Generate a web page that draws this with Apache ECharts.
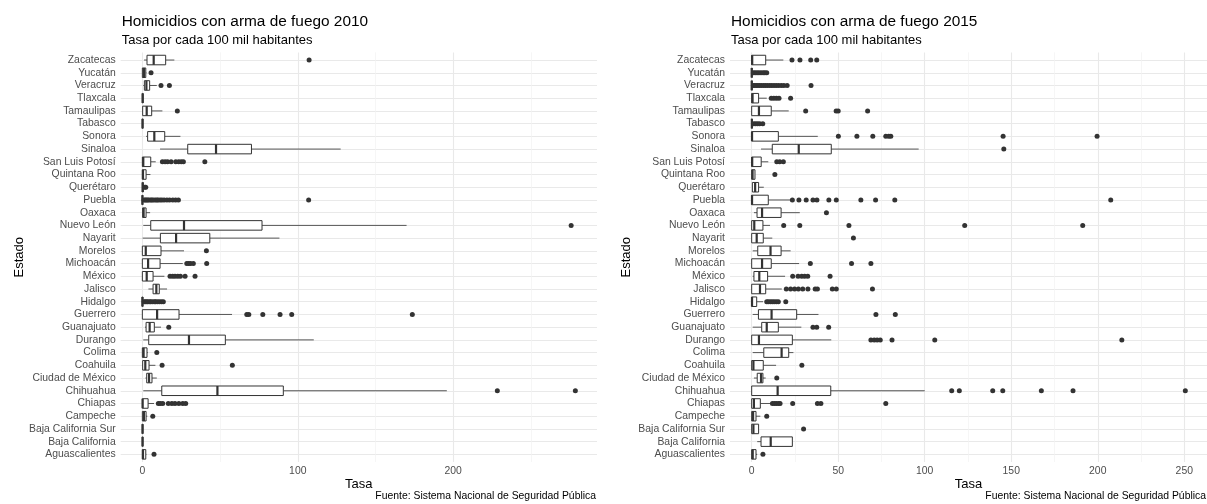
<!DOCTYPE html>
<html>
<head>
<meta charset="utf-8">
<script src="https://cdn.jsdelivr.net/npm/echarts@6.0.0/dist/echarts.min.js"></script>
<style>
  html, body { margin: 0; padding: 0; background: #ffffff; }
  #chart { width: 1207px; height: 504px; }
</style>
</head>
<body>
<div id="chart"></div>
<script>
// States, bottom (index 0) to top
const states = ["Aguascalientes","Baja California","Baja California Sur","Campeche","Chiapas","Chihuahua",
  "Ciudad de México","Coahuila","Colima","Durango","Guanajuato","Guerrero","Hidalgo","Jalisco","México",
  "Michoacán","Morelos","Nayarit","Nuevo León","Oaxaca","Puebla","Querétaro","Quintana Roo",
  "San Luis Potosí","Sinaloa","Sonora","Tabasco","Tamaulipas","Tlaxcala","Veracruz","Yucatán","Zacatecas"];

// [min, Q1, median, Q3, max] per state, 2010
const box2010 = [
  [0,0,0.4,2.2,2.6],[0,0,0.1,0.4,0.5],[0,0,0.1,0.4,0.5],[0,0,1,2.4,3.2],[0,0,0.2,3.7,7.5],
  [0.6,12.5,48.3,90.7,195.9],[2,2.8,4.3,6.2,9.3],[0,0.2,1.9,4.3,8.4],[0,0,0.8,3,3.5],
  [0.6,4.1,30,53.4,110.3],[1.7,2.4,4.7,7.7,12],[0,0,9.5,23.6,57.7],[0,0,0,0.4,0.8],
  [3.9,6.9,9,10.9,15.9],[0,0,2.8,6.9,14.2],[0,0,3.7,11.4,26],[0,0,2.2,12,26.8],
  [0.2,11.6,21.7,43.4,88.2],[0.6,5.4,26.8,77,170],[0.2,0.2,0.8,2.4,5],[0,0,0,0.3,0.6],
  [0,0,0.2,0.6,1],[0,0,0.4,2.4,5.2],[0,0,0.6,5.4,8.6],[11.4,29.2,47.4,70.2,127.6],
  [2.4,3.4,7.7,14.4,24.5],[0,0,0.1,0.4,0.5],[0,0.2,2.8,6,12.9],[0,0,0.2,0.5,0.7],
  [0.6,1.3,2.6,4.7,9.3],[0,0,1,2.2,2.6],[1.1,3,7.3,15,20.6]
];
// outliers per state, 2010
const out2010 = [
  [7.5],[],[],[6.7],[10.3,11.5,13.1,16.7,19,21,23.5,26,27.9],
  [228.4,278.6],[],[12.7,57.9],[9.3],
  [],[17],[67.2,68.5,77.5,88.6,96.1,173.7],[1.2,2.0,2.9,3.6,4.8,5.5,6.7,7.9,8.6,9.8,11.0,12.3,13.5],
  [],[17.8,19.5,21,22.8,24.5,27.5,33.9],[28.6,29.8,31,32.8,41.4],[41.2],
  [],[275.9],[],[1.1,1.9,2.6,3.4,4.2,5.3,6.1,7.0,8.2,9.3,10.1,11.4,12.6,14.0,15.8,17.5,19.6,21.4,23.2,107],
  [1.6,2.2],[],[12.9,14.6,16.2,18.5,21.5,23.4,25,26.4,40.2],[],
  [],[],[22.5],[],
  [12,17.4],[5.6],[107.3]
];

// [min, Q1, median, Q3, max] per state, 2015
const box2015 = [
  [0,0,0.6,2.5,3.2],[3.2,5.4,11,23.5,23.5],[0,0,1,4,4],[0,0,0.8,2.5,5],[0,0,1.3,5,10.9],
  [0,0,15,45.7,100],[1.3,3.2,5.4,6.5,8.1],[0,0,1,6.7,14.1],[0.6,7,17.3,21.4,24.1],
  [0,0,4.2,23.5,46],[0.6,5.8,8.7,15.4,28.7],[0.6,3.9,11.5,26,38.6],[0,0,0.2,2.9,6.6],
  [0,0,4.8,8.1,17.4],[0.6,1.3,4.4,9.2,19.3],[0,0,6,11.3,27.4],[0.6,3.5,10.9,17,22.5],
  [0,0,2.9,6.7,11.9],[0,0,1.5,6.5,10.6],[1.3,3.1,6,17,27.8],[0,0,0.2,9.6,22.7],
  [0.4,0.4,2,4,7],[0,0,0.5,1.9,1.9],[0,0,0.3,5.5,9.6],[5.4,11.9,27.2,46,96.5],
  [0,0,0.2,15.4,38.2],[0,0,0.1,0.3,0.5],[0,0,4.2,11.3,21.4],[0,0,0.5,4,8.7],
  [0,0,0,0.3,0.5],[0,0,0,0.3,0.5],[0,0,0.3,8.1,18.3]
];
// outliers per state, 2015
const out2015 = [
  [6.5],[],[30],[8.7],[12,13.2,14.3,15.5,16.4,23.7,38,40,77.5],
  [115.6,120,139.3,145.1,167.4,185.7,250.6],[14.5],[29],[],
  [68.9,70.8,72.5,74.3,81.1,105.8,213.9],[35.4,37.6,44.5],[71.8,83],[8.7,9.6,10.8,11.9,13,14.2,15.4,19.7],
  [20,22.5,24.8,27,29.5,32.5,36.7,38,46.6,48.9,69.8],[23.7,26.8,28.9,30.6,32.4,45.3],[33.9,57.7,68.9],[],
  [58.8],[18.5,27.8,56.2,123.1,191.3],[43.2],[23.5,27.3,31.5,35.4,37.7,44.6,48.9,63.1,71.6,82.7,207.5],
  [],[13.4],[14.5,16.2,18.3],[145.7],
  [50.1,60.8,70,77.5,79.2,80.4,145.3,199.6],[1.2,2.3,3.4,4.6,6.4],[31.2,48.8,50,67],[11.3,12.8,14.3,15.8,22.5],
  [1,1.8,2.7,3.6,4.5,5.6,6.8,7.9,9.1,10.4,11.6,12.9,14.2,15.6,17.1,18.6,20.5,34.3],[1,2,3.1,4.2,5.4,6.6,7.6,8.7],[23.3,27.9,34.1,37.6]
];

const ticks2010 = [0, 100, 200];
const minorTicks2010 = [50, 150, 250];
const ticks2015 = [0, 50, 100, 150, 200, 250];
const minorTicks2015 = [25, 75, 125, 175, 225];

const titles = ["Homicidios con arma de fuego 2010", "Homicidios con arma de fuego 2015"];
const subtitle = "Tasa por cada 100 mil habitantes";
const caption = "Fuente: Sistema Nacional de Seguridad Pública";
const xName = "Tasa";
const yName = "Estado";

const FONT = "'Liberation Sans', Arial, Helvetica, sans-serif";
const LABEL_COLOR = "#4d4d4d";

function extentOf(boxes, outs) {
  let lo = Infinity, hi = -Infinity;
  boxes.forEach(b => b.forEach(v => { lo = Math.min(lo, v); hi = Math.max(hi, v); }));
  outs.forEach(o => o.forEach(v => { lo = Math.min(lo, v); hi = Math.max(hi, v); }));
  const pad = (hi - lo) * 0.05;
  return [lo - pad, hi + pad];
}

const ext2010 = extentOf(box2010, out2010);
const ext2015 = extentOf(box2015, out2015);
const catIdx = states.map((s, i) => i);

const chart = echarts.init(document.getElementById('chart'), null, { renderer: 'canvas' });

const GRID_TOP = 52.4, GRID_H = 409.6;

function renderBox(params, api) {
  const yi = api.value(0);
  const pMin = api.coord([api.value(1), yi]);
  const pQ1 = api.coord([api.value(2), yi]);
  const pMd = api.coord([api.value(3), yi]);
  const pQ3 = api.coord([api.value(4), yi]);
  const pMax = api.coord([api.value(5), yi]);
  const band = Math.abs(api.size([0, 1])[1]);
  const h = band * 0.75;
  const y = pMin[1];
  return {
    type: 'group',
    children: [
      { type: 'line', shape: { x1: pMin[0], y1: y, x2: pQ1[0], y2: y }, style: { stroke: '#555555', lineWidth: 1 } },
      { type: 'line', shape: { x1: pQ3[0], y1: y, x2: pMax[0], y2: y }, style: { stroke: '#555555', lineWidth: 1 } },
      { type: 'rect', shape: { x: pQ1[0], y: y - h / 2, width: Math.max(pQ3[0] - pQ1[0], 0.5), height: h },
        style: { fill: '#ffffff', stroke: '#333333', lineWidth: 1 } },
      { type: 'line', shape: { x1: pMd[0], y1: y - h / 2, x2: pMd[0], y2: y + h / 2 }, style: { stroke: '#333333', lineWidth: 2.2 } }
    ]
  };
}

function xAxesFor(gi, ext, major, minor) {
  return [
    {
      gridIndex: gi, type: 'value', min: ext[0], max: ext[1],
      axisLine: { show: false },
      axisTick: { show: false, customValues: major },
      axisLabel: { customValues: major, color: LABEL_COLOR, fontSize: 10.4, fontFamily: FONT, margin: 4 },
      splitLine: { show: true, lineStyle: { color: '#e9e9e9', width: 1.1 } }
    },
    {
      gridIndex: gi, type: 'value', min: ext[0], max: ext[1], position: 'top',
      axisLine: { show: false },
      axisTick: { show: false, customValues: minor },
      axisLabel: { show: false, customValues: minor },
      splitLine: { show: true, lineStyle: { color: '#f2f2f2', width: 0.7 } }
    }
  ];
}

function yAxisFor(gi) {
  return {
    gridIndex: gi, type: 'value', min: -0.6, max: states.length - 0.4,
    axisLine: { show: false },
    axisTick: { show: false, customValues: catIdx },
    axisLabel: { customValues: catIdx, formatter: v => states[Math.round(v)] || '',
      color: LABEL_COLOR, fontSize: 10.4, fontFamily: FONT, margin: 5 },
    splitLine: { show: true, lineStyle: { color: '#e9e9e9', width: 1.1 } }
  };
}

function seriesFor(xi, yi, boxes, outs) {
  const boxData = boxes.map((b, i) => [i].concat(b));
  const outData = [];
  outs.forEach((arr, i) => arr.forEach(v => outData.push([v, i])));
  return [
    {
      type: 'custom', xAxisIndex: xi, yAxisIndex: yi, z: 2,
      renderItem: renderBox,
      encode: { x: [1, 2, 3, 4, 5], y: 0 },
      data: boxData, animation: false, silent: true
    },
    {
      type: 'scatter', xAxisIndex: xi, yAxisIndex: yi, z: 3,
      symbol: 'circle', symbolSize: 5,
      itemStyle: { color: '#333333', opacity: 1 },
      data: outData, animation: false, silent: true
    }
  ];
}

const panels = [
  { x0: 120.7, w: 476.3 },
  { x0: 730, w: 477 }
];

const graphics = [];
panels.forEach((p, i) => {
  graphics.push({ type: 'text', x: p.x0 + 1, y: 21.5, style: { text: titles[i], font: '15.4px ' + FONT, fill: '#000000', textVerticalAlign: 'middle' } });
  graphics.push({ type: 'text', x: p.x0 + 1, y: 40.5, style: { text: subtitle, font: '13px ' + FONT, fill: '#000000', textVerticalAlign: 'middle' } });
  graphics.push({ type: 'text', x: p.x0 + p.w / 2, y: 484, style: { text: xName, font: '13px ' + FONT, fill: '#000000', textAlign: 'center', textVerticalAlign: 'middle' } });
  graphics.push({ type: 'text', x: p.x0 + p.w - 1, y: 496.5, style: { text: caption, font: '10.4px ' + FONT, fill: '#000000', textAlign: 'right', textVerticalAlign: 'middle' } });
  graphics.push({ type: 'text', x: i === 0 ? 19 : 626, y: GRID_TOP + GRID_H / 2, rotation: Math.PI / 2,
    style: { text: yName, font: '13px ' + FONT, fill: '#000000', textAlign: 'center', textVerticalAlign: 'middle' } });
});

const option = {
  animation: false,
  backgroundColor: '#ffffff',
  textStyle: { fontFamily: FONT },
  grid: panels.map(p => ({ left: p.x0, top: GRID_TOP, width: p.w, height: GRID_H, containLabel: false })),
  xAxis: xAxesFor(0, ext2010, ticks2010, minorTicks2010).concat(xAxesFor(1, ext2015, ticks2015, minorTicks2015)),
  yAxis: [yAxisFor(0), yAxisFor(1)],
  series: seriesFor(0, 0, box2010, out2010).concat(seriesFor(2, 1, box2015, out2015)),
  graphic: graphics
};

chart.setOption(option);
</script>
</body>
</html>
